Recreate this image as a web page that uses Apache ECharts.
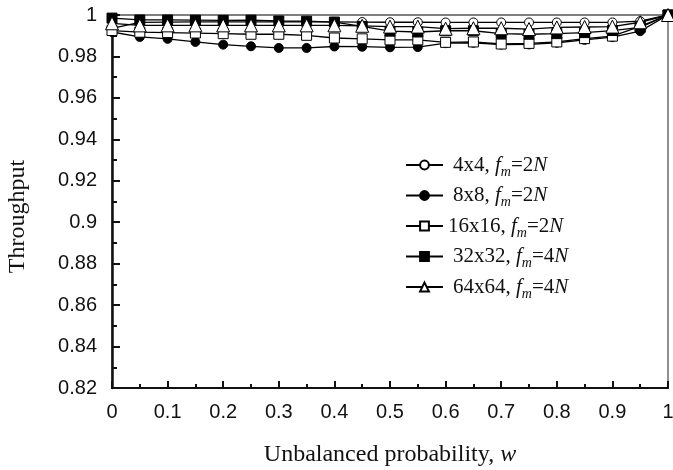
<!DOCTYPE html>
<html>
<head>
<meta charset="utf-8">
<script src="https://cdn.jsdelivr.net/npm/echarts@6/dist/echarts.min.js"></script>
<style>
html,body{margin:0;padding:0;background:#fff;}
#chart{width:673px;height:470px;}
</style>
</head>
<body>
<div id="chart"></div>
<script>
var wValues = [0,0.05,0.1,0.15,0.2,0.25,0.3,0.35,0.4,0.45,0.5,0.55,0.6,0.65,0.7,0.75,0.8,0.85,0.9,0.95,1];
var seriesNames = ['4x4','8x8','16x16','32x32','64x64'];
var fmLabels = ['2N','2N','2N','4N','4N'];
var s4x4   = [0.9935,0.9964,0.9966,0.9967,0.9967,0.9967,0.9967,0.9967,0.9967,0.9966,0.9965,0.9965,0.9964,0.9964,0.9964,0.9964,0.9964,0.9964,0.9964,0.997,1.0];
var s8x8   = [0.9918,0.9894,0.9885,0.987,0.9857,0.9849,0.9841,0.9841,0.9848,0.9847,0.9844,0.9845,0.9864,0.9866,0.9857,0.9858,0.9866,0.988,0.9893,0.9922,1.0];
var s16x16 = [0.9925,0.9917,0.9915,0.9913,0.991,0.9907,0.9907,0.9902,0.9889,0.9885,0.988,0.988,0.9868,0.987,0.986,0.9863,0.987,0.9886,0.9898,0.9945,1.0];
var s32x32 = [0.9985,0.9976,0.9976,0.9975,0.9974,0.9975,0.9971,0.997,0.9966,0.9945,0.9922,0.9918,0.9924,0.9924,0.991,0.9907,0.991,0.9915,0.9925,0.994,1.0];
var s64x64 = [0.996,0.995,0.995,0.995,0.995,0.995,0.995,0.995,0.995,0.9948,0.9944,0.9944,0.9934,0.9936,0.9936,0.9932,0.994,0.9942,0.9944,0.9965,1.0];
var allValues = [s4x4, s8x8, s16x16, s32x32, s64x64];
var symbols = ['circle','circle','rect','rect','triangle'];
var fills = ['#ffffff','#000000','#ffffff','#000000','#ffffff'];
var sizes = [9,9,10,10,13];

var serif = 'Liberation Serif';
var sans = 'Liberation Sans';

function fullName(i){ return seriesNames[i] + ', fm=' + fmLabels[i]; }

var series = allValues.map(function(vals, i){
  return {
    name: fullName(i),
    type: 'line',
    data: wValues.map(function(w, k){ return [w, vals[k]]; }),
    symbol: symbols[i],
    symbolSize: sizes[i],
    showAllSymbol: true,
    lineStyle: {color: '#000', width: 1.3},
    itemStyle: {color: fills[i], borderColor: '#000', borderWidth: 1},
    emphasis: {disabled: true},
    animation: false,
    z: 2 + i
  };
});

var chart = echarts.init(document.getElementById('chart'), null, {renderer: 'canvas'});
chart.setOption({
  animation: false,
  backgroundColor: '#fff',
  grid: {left: 112, right: 5, top: 15, bottom: 82, show: true, borderColor: '#555', borderWidth: 1.3, containLabel: false, outerBoundsMode: 'none'},
  legend: {
    left: 400, top: 146, orient: 'vertical',
    itemWidth: 37, itemHeight: 11, itemGap: 2.5,
    data: seriesNames.map(function(n, i){ return fullName(i); }),
    formatter: function(name){
      var idx = -1;
      for (var i = 0; i < seriesNames.length; i++) { if (fullName(i) === name) idx = i; }
      var sp = (seriesNames[idx] === '16x16') ? '' : '{sp|}';
      var fm = fmLabels[idx];
      return sp + '{n|' + seriesNames[idx] + ', }{i|f}{s|m}{n|=' + fm.charAt(0) + '}{i|' + fm.charAt(1) + '}';
    },
    textStyle: {
      rich: {
        sp: {width: 5, lineHeight: 22},
        n: {fontFamily: serif, fontSize: 21, color: '#111', lineHeight: 22},
        i: {fontFamily: serif, fontSize: 21, fontStyle: 'italic', color: '#111', lineHeight: 22},
        s: {fontFamily: serif, fontSize: 14, fontStyle: 'italic', color: '#111', lineHeight: 8, padding: [14, 0, 0, 0]}
      }
    },
    selectedMode: false
  },
  xAxis: {
    type: 'value', min: 0, max: 1, interval: 0.1,
    name: '{a|Unbalanced probability, }{b|w}',
    nameLocation: 'middle', nameGap: 55,
    nameTextStyle: {
      rich: {
        a: {fontFamily: serif, fontSize: 24, color: '#111'},
        b: {fontFamily: serif, fontSize: 24, fontStyle: 'italic', color: '#111'}
      }
    },
    axisLine: {show: true, onZero: false, lineStyle: {color: '#111', width: 2}},
    axisTick: {show: true, inside: true, length: 7, lineStyle: {color: '#111', width: 2}},
    minorTick: {show: true, splitNumber: 2, length: 4, lineStyle: {color: '#111', width: 2}},
    axisLabel: {fontFamily: sans, fontSize: 20, color: '#111', margin: 14},
    splitLine: {show: false}
  },
  yAxis: {
    type: 'value', min: 0.82, max: 1, interval: 0.02,
    name: 'Throughput',
    nameLocation: 'middle', nameGap: 82, nameRotate: 90,
    nameTextStyle: {fontFamily: serif, fontSize: 24, color: '#111', padding: [0, 30, 0, 0]},
    axisLine: {show: true, onZero: false, lineStyle: {color: '#111', width: 2.5}},
    axisTick: {show: true, inside: true, length: 8, lineStyle: {color: '#111', width: 2}},
    minorTick: {show: true, splitNumber: 2, length: 5, lineStyle: {color: '#111', width: 2}},
    axisLabel: {fontFamily: sans, fontSize: 20, color: '#111', margin: 15,
      formatter: function(v){ return String(Math.round(v * 100) / 100); }},
    splitLine: {show: false}
  },
  series: series
});
</script>
</body>
</html>
